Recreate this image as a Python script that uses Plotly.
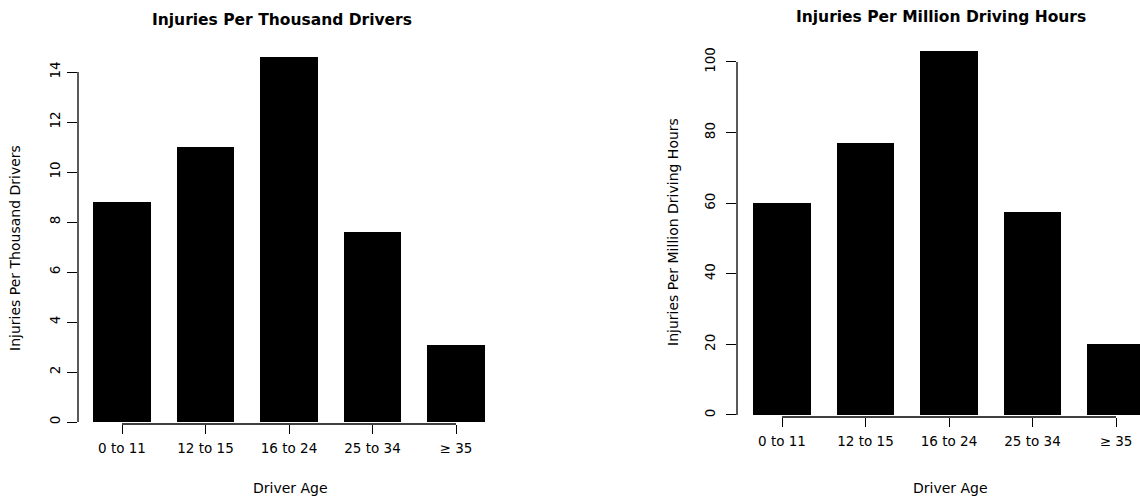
import plotly.graph_objects as go

categories = ["0 to 11", "12 to 15", "16 to 24", "25 to 34", "\u2265 35"]
per_thousand_drivers = [8.8, 11.0, 14.6, 7.6, 3.1]
per_million_hours = [60, 77, 103, 57.5, 20]
left_ticks = [0, 2, 4, 6, 8, 10, 12, 14]
right_ticks = [0, 20, 40, 60, 80, 100]

W, H = 1140, 502
FONT = "DejaVu Sans"
pos = list(range(len(categories)))

fig = go.Figure()
fig.add_trace(go.Bar(x=pos, y=per_thousand_drivers, width=0.69,
                     marker=dict(color="black", line=dict(width=0)),
                     xaxis="x", yaxis="y", showlegend=False))
fig.add_trace(go.Bar(x=pos, y=per_million_hours, width=0.69,
                     marker=dict(color="black", line=dict(width=0)),
                     xaxis="x2", yaxis="y2", showlegend=False))

def px_x(p):
    return p / W

def px_y(p):
    return 1 - p / H

tickfont = dict(family=FONT, size=13.5, color="black")
common_x = dict(tickmode="array", tickvals=pos, ticktext=categories,
                ticks="outside", ticklen=9, tickwidth=1.3, tickcolor="black",
                showgrid=False, zeroline=False, showline=False, tickfont=tickfont,
                automargin=False, ticklabelstandoff=3)
common_y = dict(tickmode="array", ticks="outside", ticklen=10, tickwidth=1.3,
                tickcolor="black", showgrid=False, zeroline=False, showline=False,
                tickangle=-90, tickfont=tickfont, automargin=False)

fig.update_layout(
    width=W, height=H,
    margin=dict(l=0, r=0, t=0, b=0, autoexpand=False),
    paper_bgcolor="white", plot_bgcolor="white",
    bargap=0,
    xaxis=dict(domain=[px_x(78), px_x(500)], range=[-0.527, 4.527], anchor="y", **common_x),
    yaxis=dict(domain=[px_y(424), px_y(50)], range=[-0.08, 14.88], anchor="x",
               tickvals=left_ticks, ticklabelstandoff=2, **common_y),
    xaxis2=dict(domain=[px_x(737), 1.0], range=[-0.539, 4.287], anchor="y2", **common_x),
    yaxis2=dict(domain=[px_y(417), px_y(45)], range=[-0.57, 104.8], anchor="x2",
                tickvals=right_ticks, ticklabelstandoff=6, **common_y),
)

line = dict(color="black", width=1.3)
shapes = [
    # R-style axis lines spanning first to last tick
    dict(type="line", xref="x", yref="y domain", x0=pos[0], x1=pos[-1], y0=0, y1=0, line=line),
    dict(type="line", xref="x domain", yref="y", x0=0, x1=0, y0=left_ticks[0], y1=left_ticks[-1], line=line),
    dict(type="line", xref="x2", yref="y2 domain", x0=pos[0], x1=pos[-1], y0=0, y1=0, line=line),
    dict(type="line", xref="x2 domain", yref="y2", x0=0, x1=0, y0=right_ticks[0], y1=right_ticks[-1], line=line),
]
fig.update_layout(shapes=shapes)

titlefont = dict(family=FONT, size=15.5, color="black", weight="bold")
axfont = dict(family=FONT, size=14, color="black")
ann = [
    dict(text="Injuries Per Thousand Drivers", x=px_x(282), y=px_y(20), font=titlefont),
    dict(text="Injuries Per Million Driving Hours", x=px_x(941), y=px_y(17), font=titlefont),
    dict(text="Driver Age", x=px_x(290), y=px_y(488), font=axfont),
    dict(text="Driver Age", x=px_x(950), y=px_y(488), font=axfont),
    dict(text="Injuries Per Thousand Drivers", x=px_x(15), y=px_y(248), font=axfont, textangle=-90),
    dict(text="Injuries Per Million Driving Hours", x=px_x(673), y=px_y(232), font=axfont, textangle=-90),
]
for a in ann:
    a.update(xref="paper", yref="paper", xanchor="center", yanchor="middle", showarrow=False)
fig.update_layout(annotations=ann)

fig.write_html("out.html",
               config={"displayModeBar": False},
               post_script="document.body.style.margin='0px';document.body.style.overflow='hidden';")
